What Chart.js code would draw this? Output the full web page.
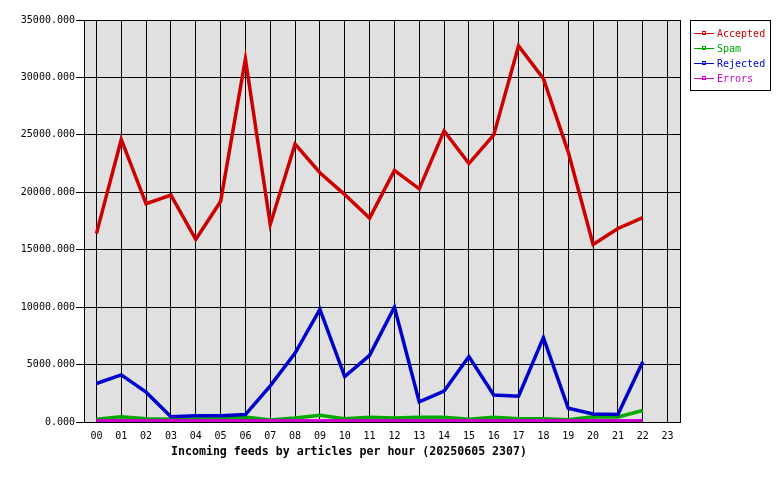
<!DOCTYPE html>
<html>
<head>
<meta charset="utf-8">
<script src="https://cdn.jsdelivr.net/npm/chart.js@4/dist/chart.umd.min.js"></script>
<style>
html,body{margin:0;padding:0;background:#fff;}
#wrap{width:780px;height:480px;position:relative;}
</style>
</head>
<body>
<div id="wrap"><canvas id="c" width="780" height="480"></canvas></div>
<script>
const hours = ["00","01","02","03","04","05","06","07","08","09","10","11","12","13","14","15","16","17","18","19","20","21","22","23"];
const accepted = [16400,24600,19000,19750,15900,19200,31600,17200,24200,21700,19800,17750,21900,20300,25350,22500,25000,32750,29900,23500,15450,16850,17800,null];
const spam     = [250,460,290,250,250,300,430,170,350,580,290,410,350,410,410,250,410,290,290,200,460,430,1000,null];
const rejected = [3350,4100,2600,450,550,550,650,3150,6000,9800,3950,5800,10000,1750,2700,5700,2350,2250,7350,1200,700,650,5250,null];
const errors   = [140,140,140,140,140,140,140,140,140,140,140,140,140,140,140,140,140,140,140,140,140,140,140,null];
const yTicks = [0,5000,10000,15000,20000,25000,30000,35000];
const xTitle = "Incoming feeds by articles per hour (20250605 2307)";

const MONO = "'DejaVu Sans Mono', 'Liberation Mono', monospace";

const framePlugin = {
  id: 'frame',
  beforeDraw(chart) {
    const {ctx, chartArea: a} = chart;
    ctx.save();
    ctx.fillStyle = '#e0e0e0';
    ctx.fillRect(a.left, a.top, a.right - a.left, a.bottom - a.top);
    ctx.restore();
  },
  afterDraw(chart) {
    const {ctx, chartArea: a} = chart;
    ctx.save();
    ctx.strokeStyle = '#000';
    ctx.lineWidth = 1;
    ctx.strokeRect(Math.round(a.left) + 0.5, Math.round(a.top) + 0.5, Math.round(a.right - a.left), Math.round(a.bottom - a.top));
    // x axis title
    ctx.font = "bold 11.6px " + MONO;
    ctx.fillStyle = '#000';
    ctx.textAlign = 'center';
    ctx.textBaseline = 'middle';
    ctx.fillText(xTitle, 349, 452);
    // legend
    const lx = 690, ly = 20, lw = 80, lh = 70;
    ctx.strokeRect(lx + 0.5, ly + 0.5, lw, lh);
    ctx.font = "10px " + MONO;
    ctx.textAlign = 'left';
    chart.data.datasets.forEach((ds, i) => {
      const y = 33 + i * 15;
      ctx.strokeStyle = ds.borderColor;
      ctx.lineWidth = 1;
      ctx.beginPath();
      ctx.moveTo(694, y + 0.5);
      ctx.lineTo(714, y + 0.5);
      ctx.stroke();
      ctx.strokeRect(702.5, y - 1.5, 3, 3);
      ctx.fillStyle = ds.borderColor;
      ctx.fillText(ds.label, 717, y + 1);
    });
    ctx.restore();
  }
};

new Chart(document.getElementById('c'), {
  type: 'line',
  data: {
    labels: hours,
    datasets: [
      {label: 'Accepted', data: accepted, borderColor: '#cc0000', backgroundColor: '#cc0000', borderWidth: 3.5, order: 1},
      {label: 'Spam', data: spam, borderColor: '#00aa00', backgroundColor: '#00aa00', borderWidth: 3.5, order: 3},
      {label: 'Rejected', data: rejected, borderColor: '#0000cc', backgroundColor: '#0000cc', borderWidth: 3.5, order: 2},
      {label: 'Errors', data: errors, borderColor: '#cc00cc', backgroundColor: '#cc00cc', borderWidth: 3, order: 0}
    ].map(d => Object.assign(d, {pointRadius: 0, tension: 0, fill: false}))
  },
  options: {
    responsive: false,
    animation: false,
    devicePixelRatio: 1,
    layout: {padding: {top: 20, right: 100, left: 0, bottom: 0}},
    plugins: {legend: {display: false}, tooltip: {enabled: false}, title: {display: false}},
    scales: {
      x: {
        offset: true,
        grid: {offset: false, color: '#000', lineWidth: 1, drawTicks: false},
        border: {display: true, color: '#000'},
        ticks: {color: '#000', font: {family: MONO, size: 10}, padding: 8, maxRotation: 0, autoSkip: false},
        afterFit(s) { s.height = 58; }
      },
      y: {
        min: 0, max: 35000,
        afterBuildTicks(s) { s.ticks = yTicks.map(v => ({value: v})); },
        grid: {color: '#000', lineWidth: 1, tickLength: 8},
        border: {display: true, color: '#000'},
        ticks: {color: '#000', font: {family: MONO, size: 10}, padding: 1, callback: v => Number(v).toFixed(3)},
        afterFit(s) { s.width = 84; }
      }
    }
  },
  plugins: [framePlugin]
});
</script>
</body>
</html>
